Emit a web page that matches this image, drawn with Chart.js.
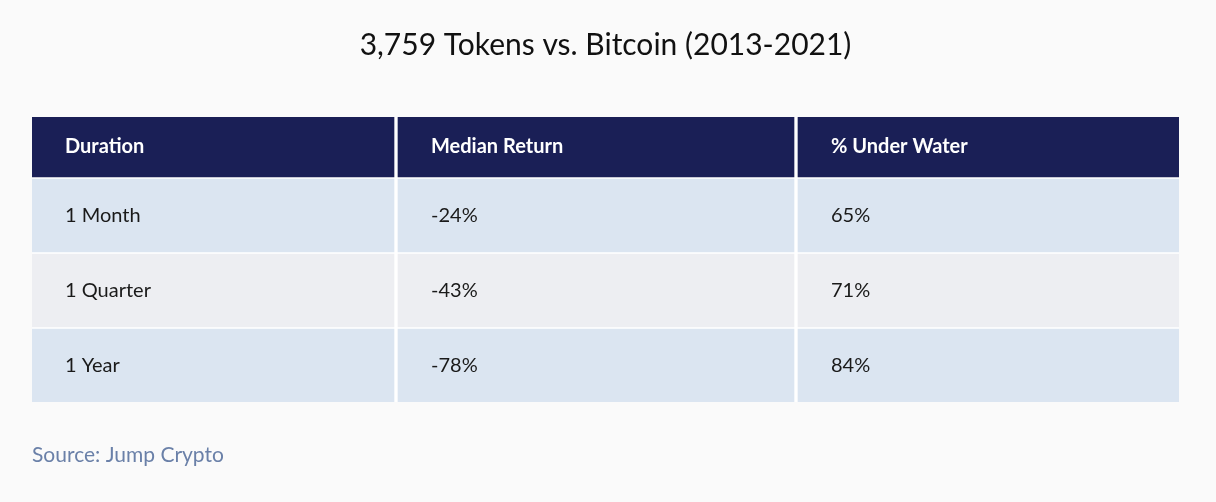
<!DOCTYPE html>
<html>
<head>
<meta charset="utf-8">
<script src="https://cdn.jsdelivr.net/npm/chart.js@4/dist/chart.umd.min.js"></script>
<style>
  html, body { margin: 0; padding: 0; background: #fafafa; }
  #wrap { width: 1216px; height: 502px; }
</style>
</head>
<body>
<div id="wrap"><canvas id="tableChart"></canvas></div>
<script>
// table values
const columns = ['Duration', 'Median Return', '% Under Water'];
const durations = ['1 Month', '1 Quarter', '1 Year'];
const medianReturn = [-24, -43, -78];
const underWater = [65, 71, 84];

// layout (table units = px of the chart area)
const colWidths = [362, 396, 381];
const colGap = 4;
const headerHeight = 60;
const rowHeight = 73;
const rowGap = 2;
const fontFamily = 'Lato, "Noto Sans", sans-serif';

const colStarts = [];
let cx = 0;
colWidths.forEach(w => { colStarts.push(cx); cx += w + colGap; });
const tableWidth = cx - colGap;

const rowHeights = [headerHeight, rowHeight, rowHeight, rowHeight];
const rowCenters = [];
let cy = 0;
rowHeights.forEach(h => { rowCenters.push(cy + h / 2); cy += h + rowGap; });
const tableHeight = cy - rowGap;

const rowColors = ['#1a1f56', '#dbe5f1', '#edeef2', '#dbe5f1'];

const rowTexts = [columns].concat(durations.map((d, i) => [
  d, medianReturn[i] + '%', underWater[i] + '%'
]));

const datasets = rowHeights.map((h, r) => ({
  label: r === 0 ? 'header' : durations[r - 1],
  data: colWidths.map((w, c) => ({ x: [colStarts[c], colStarts[c] + w], y: rowCenters[r] })),
  backgroundColor: rowColors[r],
  barThickness: h,
  borderWidth: 0,
  borderSkipped: false,
  grouped: false
}));

const cellText = {
  id: 'cellText',
  beforeDatasetsDraw(chart) {
    const a = chart.chartArea;
    chart.ctx.save();
    chart.ctx.fillStyle = '#ffffff';
    chart.ctx.fillRect(a.left, a.top, a.right - a.left, a.bottom - a.top);
    chart.ctx.restore();
  },
  afterDatasetsDraw(chart) {
    const ctx = chart.ctx;
    const xs = chart.scales.x, ys = chart.scales.y;
    ctx.save();
    ctx.textBaseline = 'middle';
    ctx.textAlign = 'left';
    rowTexts.forEach((cells, r) => {
      ctx.font = (r === 0 ? 'bold 20px ' : '20px ') + fontFamily;
      ctx.fillStyle = r === 0 ? '#ffffff' : '#1a1a1a';
      cells.forEach((t, c) => {
        const px = xs.getPixelForValue(colStarts[c]) + 33;
        const py = ys.getPixelForValue(rowCenters[r]);
        ctx.fillText(t, px, py);
      });
    });
    ctx.restore();
  }
};

const config = {
  type: 'bar',
  data: { datasets: datasets },
  options: {
    indexAxis: 'y',
    responsive: true,
    maintainAspectRatio: false,
    animation: false,
    layout: { padding: { left: 32, right: 37, top: 0, bottom: 0 } },
    scales: {
      x: { type: 'linear', min: 0, max: tableWidth, display: false, offset: false },
      y: { type: 'linear', min: 0, max: tableHeight, reverse: true, display: false, offset: false }
    },
    plugins: {
      legend: { display: false },
      tooltip: { enabled: false },
      title: {
        display: true,
        text: '3,759 Tokens vs. Bitcoin (2013-2021)',
        color: '#111111',
        font: { family: fontFamily, size: 30, weight: 'normal', lineHeight: 1.2 },
        padding: { top: 27, bottom: 54 }
      },
      subtitle: {
        display: true,
        position: 'bottom',
        align: 'start',
        text: 'Source: Jump Crypto',
        color: '#6a80a8',
        font: { family: fontFamily, size: 21, weight: 'normal', lineHeight: 1.2 },
        padding: { top: 40.4, bottom: 34.4 }
      }
    }
  },
  plugins: [cellText]
};

new Chart(document.getElementById('tableChart'), config);
</script>
</body>
</html>
